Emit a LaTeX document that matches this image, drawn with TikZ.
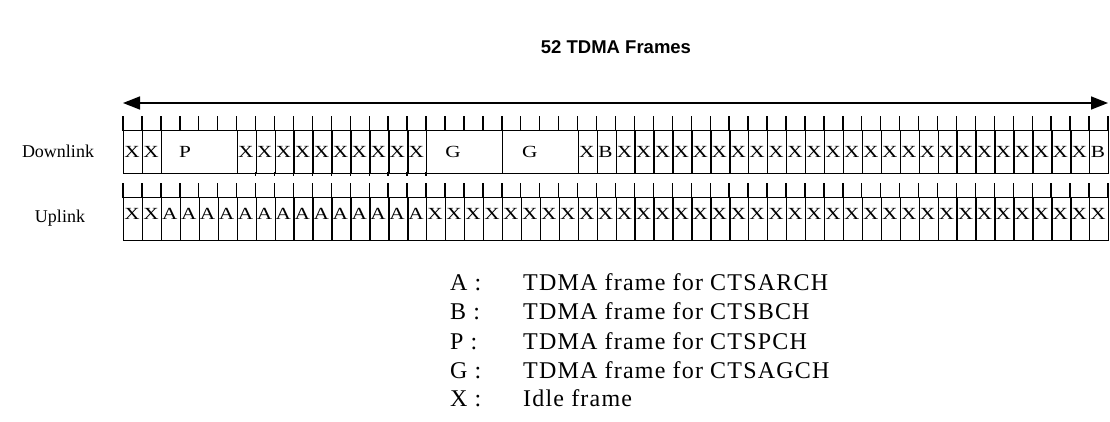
\documentclass[tikz,border=0pt]{standalone}
\usepackage{fontspec}
\setmainfont{Liberation Serif}
\newfontfamily\titlefont{Liberation Sans}
\usetikzlibrary{arrows.meta}
\begin{document}
\begin{tikzpicture}[x=1pt,y=-1pt,
  framebox/.style={draw, line width=1.4pt, rectangle, inner sep=0pt, minimum height=43pt,
    anchor=north west},
  tickline/.style={line width=1.4pt},
  rowlabel/.style={font=\fontsize{18}{20}\selectfont, inner sep=0pt, anchor=base},
  cellletter/.style={font=\fontsize{17}{20}\selectfont\addfontfeature{FakeStretch=1.25}, inner sep=0pt, anchor=base west},
  legkey/.style={anchor=base west, inner sep=0pt, font=\fontsize{24}{27}\selectfont\addfontfeature{LetterSpace=5}},
  span/.style={<->, >={Triangle[length=17pt,width=13pt]}, line width=1.5pt}]
\useasboundingbox (0,0) rectangle (1110,421);
\def\w{18.942}
\def\xo{123}
% title
\node[font=\titlefont\bfseries\fontsize{18.5}{22}\selectfont] (title) at (616,47) {52 TDMA Frames};
% span arrow
\coordinate (L) at (\xo,103);
\coordinate (R) at (1108,103);
\draw[span] (L) -- (R);
% row labels
\node[rowlabel] (dl) at (58,157) {Downlink};
\node[rowlabel] (ul) at (60,222) {Uplink};
% ticks
\foreach \k in {0,...,52} {
  \draw[tickline] ({\xo+\k*\w},116) -- ({\xo+\k*\w},131);
  \draw[tickline] ({\xo+\k*\w},183) -- ({\xo+\k*\w},198);
}
\foreach \k in {7,...,16}
  \draw[tickline] ({\xo+\k*\w},172) -- ({\xo+\k*\w},176);
% downlink
\foreach \k in {0,1,6,7,...,15,24,26,27,...,50} {
  \node[framebox, minimum width=\w pt] (d\k) at ({\xo+\k*\w},130) {};
  \node[cellletter] (dt\k) at ({\xo+\k*\w+1.2},157) {X};
}
\foreach \k in {25,51} {
  \node[framebox, minimum width=\w pt] (d\k) at ({\xo+\k*\w},130) {};
  \node[cellletter] (dt\k) at ({\xo+\k*\w+1.5},157) {B};
}
\node[framebox, minimum width=4*\w pt] (dP) at ({\xo+2*\w},130) {};
\node[framebox, minimum width=4*\w pt] (dG1) at ({\xo+16*\w},130) {};
\node[framebox, minimum width=4*\w pt] (dG2) at ({\xo+20*\w},130) {};
\node[cellletter] (lP) at ({\xo+2*\w+18},157) {P};
\node[cellletter] (lG1) at ({\xo+16*\w+19},157) {G};
\node[cellletter] (lG2) at ({\xo+20*\w+20},157) {G};
% uplink
\foreach \k in {0,1,16,17,...,51} {
  \node[framebox, minimum width=\w pt] (u\k) at ({\xo+\k*\w},197) {};
  \node[cellletter] (ut\k) at ({\xo+\k*\w+1.2},219) {X};
}
\foreach \k in {2,...,15} {
  \node[framebox, minimum width=\w pt] (u\k) at ({\xo+\k*\w},197) {};
  \node[cellletter] (ut\k) at ({\xo+\k*\w+1},219) {A};
}
% legend
\node[legkey] (kA) at (450,290) {A :};
\node[legkey] (tA) at (523,290) {TDMA frame for CTSARCH};
\node[legkey] (kB) at (450,319) {B :};
\node[legkey] (tB) at (523,319) {TDMA frame for CTSBCH};
\node[legkey] (kP) at (450,349) {P :};
\node[legkey] (tP) at (523,349) {TDMA frame for CTSPCH};
\node[legkey] (kG) at (450,378) {G :};
\node[legkey] (tG) at (523,378) {TDMA frame for CTSAGCH};
\node[legkey] (kX) at (450,406) {X :};
\node[legkey] (tX) at (523,406) {Idle frame};
\end{tikzpicture}
\end{document}
